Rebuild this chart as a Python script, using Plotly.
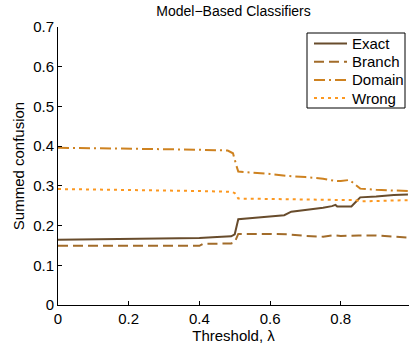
import plotly.graph_objects as go

# Summed confusion vs. threshold for each error category
exact_x = [0, 0.1, 0.2, 0.3, 0.4, 0.45, 0.49, 0.5, 0.51, 0.55, 0.6, 0.64, 0.66, 0.7, 0.75, 0.775, 0.785, 0.79, 0.83, 0.845, 0.855, 0.9, 0.95, 0.99]
exact_y = [0.164, 0.165, 0.166, 0.167, 0.169, 0.171, 0.173, 0.178, 0.216, 0.219, 0.223, 0.226, 0.235, 0.239, 0.245, 0.249, 0.252, 0.248, 0.248, 0.262, 0.271, 0.273, 0.277, 0.278]

branch_x = [0, 0.2, 0.4, 0.41, 0.49, 0.5, 0.51, 0.6, 0.65, 0.7, 0.75, 0.78, 0.8, 0.85, 0.9, 0.95, 0.99]
branch_y = [0.149, 0.149, 0.149, 0.154, 0.155, 0.158, 0.179, 0.179, 0.178, 0.174, 0.172, 0.176, 0.174, 0.175, 0.175, 0.172, 0.170]

domain_x = [0, 0.2, 0.4, 0.48, 0.495, 0.505, 0.51, 0.6, 0.65, 0.7, 0.75, 0.78, 0.8, 0.825, 0.84, 0.855, 0.9, 0.95, 0.99]
domain_y = [0.396, 0.394, 0.391, 0.389, 0.382, 0.350, 0.336, 0.330, 0.325, 0.322, 0.318, 0.313, 0.312, 0.315, 0.303, 0.293, 0.290, 0.288, 0.287]

wrong_x = [0, 0.2, 0.4, 0.49, 0.5, 0.51, 0.6, 0.7, 0.8, 0.84, 0.86, 0.9, 0.99]
wrong_y = [0.292, 0.290, 0.287, 0.285, 0.282, 0.268, 0.267, 0.266, 0.265, 0.264, 0.261, 0.262, 0.264]

x_ticks = [0, 0.2, 0.4, 0.6, 0.8]
y_ticks = [0, 0.1, 0.2, 0.3, 0.4, 0.5, 0.6, 0.7]

series = [
    ("Exact", exact_x, exact_y, "rgb(104,76,44)", "solid"),
    ("Branch", branch_x, branch_y, "rgb(162,108,42)", "10px,5px"),
    ("Domain", domain_x, domain_y, "rgb(206,130,32)", "11px,4px,2px,4px"),
    ("Wrong", wrong_x, wrong_y, "rgb(252,152,32)", "3px,4px"),
]

W, H = 409, 349
M_L, M_R, M_T, M_B = 58, 0, 27, 44
PW, PH = W - M_L - M_R, H - M_T - M_B


def px_x(p):
    return (p - M_L) / PW


def px_y(p):
    return (H - M_B - p) / PH


fig = go.Figure()
for name, xs, ys, color, dash in series:
    fig.add_trace(go.Scatter(x=xs, y=ys, mode="lines", name=name, showlegend=False,
                             line=dict(color=color, width=2, dash=dash)))

# Compact boxed legend drawn in paper space
shapes = [dict(type="rect", xref="paper", yref="paper",
               x0=px_x(307), x1=px_x(405), y0=px_y(108), y1=px_y(33),
               line=dict(color="black", width=1), fillcolor="white", layer="above")]
annotations = []
for i, (name, _, _, color, dash) in enumerate(series):
    row = 43.5 + i * 18.2
    shapes.append(dict(type="line", xref="paper", yref="paper",
                       x0=px_x(314), x1=px_x(347), y0=px_y(row), y1=px_y(row),
                       line=dict(color=color, width=2, dash=dash), layer="above"))
    annotations.append(dict(text=name, xref="paper", yref="paper",
                            x=px_x(350), y=px_y(row), xanchor="left", yanchor="middle",
                            showarrow=False, font=dict(size=15, color="black")))

font = "Liberation Sans, Arial, Helvetica, sans-serif"
fig.update_layout(
    width=W, height=H,
    margin=dict(l=M_L, r=M_R, t=M_T, b=M_B),
    plot_bgcolor="white", paper_bgcolor="white",
    font=dict(family=font, size=15, color="black"),
    title=dict(text="Model\u2212Based Classifiers", x=0.5, xref="paper",
               y=1 - 11 / H, yanchor="middle", font=dict(size=14)),
    xaxis=dict(range=[0, 0.993], tickvals=x_ticks, ticktext=[f"{v:g}" for v in x_ticks],
               ticks="inside", ticklen=4, tickcolor="black", showline=True,
               linecolor="black", linewidth=1, showgrid=False, zeroline=False,
               tickfont=dict(size=15),
               title=dict(text="Threshold, \u03bb", standoff=0, font=dict(size=15))),
    yaxis=dict(range=[0, 0.7], tickvals=y_ticks, ticktext=[f"{v:g}" for v in y_ticks],
               ticks="inside", ticklen=4, tickcolor="black", showline=True,
               linecolor="black", linewidth=1, showgrid=False, zeroline=False,
               tickfont=dict(size=15),
               title=dict(text="Summed confusion", standoff=4, font=dict(size=15))),
    shapes=shapes,
    annotations=annotations,
    showlegend=False,
)

fig.write_html("out.html")
